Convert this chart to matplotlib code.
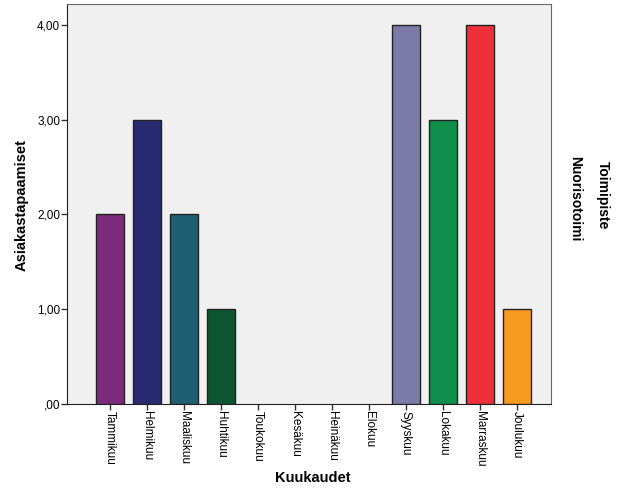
import matplotlib
matplotlib.use("Agg")
import matplotlib.pyplot as plt

plt.rcParams["font.family"] = ["Liberation Sans", "DejaVu Sans"]

months = ["Tammikuu", "Helmikuu", "Maaliskuu", "Huhtikuu", "Toukokuu", "Kesäkuu",
          "Heinäkuu", "Elokuu", "Syyskuu", "Lokakuu", "Marraskuu", "Joulukuu"]
values = [2, 3, 2, 1, 0, 0, 0, 0, 4, 3, 4, 1]
colors = ["#7B2A7E", "#282A72", "#1F5F73", "#0B5530", "#4a4a4a", "#4a4a4a",
          "#4a4a4a", "#4a4a4a", "#7B7BAA", "#0E8F4C", "#EF3038", "#F89A1F"]
yticks = [0, 1, 2, 3, 4]
ytick_labels = [",00", "1,00", "2,00", "3,00", "4,00"]

W, H = 626, 501
fig = plt.figure(figsize=(W/100, H/100), dpi=100)
L, R, T, B = 67, 551, 4, 404
ax = fig.add_axes([L/W, 1-B/H, (R-L)/W, (B-T)/H])
ax.set_facecolor("#F0F0F0")
x = list(range(len(months)))
for xi, v, c in zip(x, values, colors):
    if v > 0:
        ax.bar(xi, v, width=0.76, color=c, edgecolor="#222222", linewidth=1, zorder=3)
ax.set_xlim(-1.16, 11.92)
ax.set_ylim(0, 4.22)
ax.set_yticks(yticks)
ax.set_yticklabels(ytick_labels, fontsize=8.5)
ax.set_xticks(x)
ax.set_xticklabels(months, rotation=-90, fontsize=8.5)
ax.tick_params(axis="both", length=4, width=1, color="#333333", pad=1)
for s in ["left", "bottom"]:
    ax.spines[s].set_color("#222222")
for s in ["top", "right"]:
    ax.spines[s].set_color("#666666")
ax.set_ylabel("Asiakastapaamiset", fontsize=10.5, fontweight="bold")
ax.set_xlabel("Kuukaudet", fontsize=10.5, fontweight="bold")
ax.yaxis.set_label_coords((22 - L)/(R-L), (B-205)/(B-T))
ax.xaxis.set_label_coords((313 - L)/(R-L), (B-478)/(B-T))
ax.yaxis.label.set_va("center")
ax.xaxis.label.set_va("center")
fig.text(603/W, 1-195/H, "Toimipiste", rotation=-90, fontsize=10, fontweight="bold",
         ha="center", va="center")
fig.text(575/W, 1-199/H, "Nuorisotoimi", rotation=-90, fontsize=10, fontweight="bold",
         ha="center", va="center")
fig.savefig("out.png", dpi=100, facecolor="white")
